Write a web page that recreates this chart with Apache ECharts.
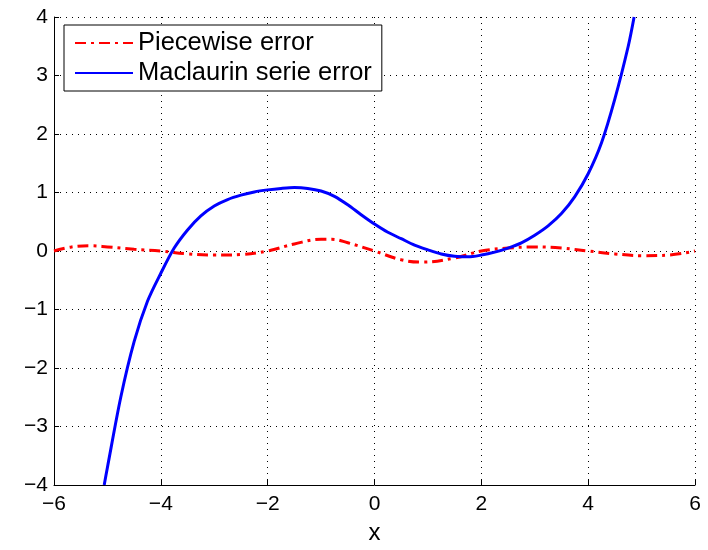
<!DOCTYPE html>
<html>
<head>
<meta charset="utf-8">
<script src="https://cdn.jsdelivr.net/npm/echarts@6/dist/echarts.min.js"></script>
<style>
  html, body { margin: 0; padding: 0; background: #fff; }
  #chart { width: 708px; height: 550px; }
</style>
</head>
<body>
<div id="chart"></div>
<script>
// values
var seriesNames = ['Piecewise error', 'Maclaurin serie error'];

var piecewiseX = [-6, -5.67, -5.33, -5, -4.5, -4, -3.5, -3, -2.5, -2, -1.5, -1, -0.8, -0.5, 0, 0.5, 0.9, 1.5, 2, 2.5, 3, 3.5, 4, 4.5, 5, 5.5, 6];
var piecewiseY = [0, 0.07, 0.09, 0.07, 0.03, 0, -0.05, -0.07, -0.06, 0, 0.12, 0.2, 0.2, 0.14, 0, -0.15, -0.19, -0.12, 0, 0.05, 0.07, 0.05, 0, -0.05, -0.08, -0.07, 0];

var maclaurinX = [-5.06, -5.0, -4.75, -4.5, -4.25, -4.0, -3.75, -3.5, -3.25, -3.0, -2.75, -2.5, -2.25, -2.0, -1.75, -1.5, -1.25, -1.0, -0.75, -0.5, -0.25,
    0, 0.25, 0.5, 0.75, 1.0, 1.25, 1.5, 1.75, 2.0, 2.25, 2.5, 2.75, 3.0, 3.25, 3.5, 3.75, 4.0, 4.25, 4.5, 4.75, 4.86];
var maclaurinY = [-4, -3.7, -2.5, -1.55, -0.86, -0.38, 0.05, 0.36, 0.6, 0.77, 0.88, 0.955, 1.01, 1.045, 1.07, 1.085, 1.07, 1.025, 0.935, 0.79, 0.62,
    0.46, 0.32, 0.21, 0.1, 0.02, -0.05, -0.09, -0.1, -0.07, -0.02, 0.05, 0.14, 0.27, 0.43, 0.64, 0.93, 1.32, 1.85, 2.6, 3.5, 4.0];

var xTicks = { min: -6, max: 6, step: 2 };
var yTicks = { min: -4, max: 4, step: 1 };

function pairs(xs, ys) {
    return xs.map(function (x, i) { return [x, ys[i]]; });
}

function minusSign(v) {
    return String(v).replace('-', '\u2212');
}

var font = 'Liberation Sans, Arial, sans-serif';
var myChart = echarts.init(document.getElementById('chart'));

var axisCommon = {
    axisLine: { show: true, onZero: false, lineStyle: { color: '#000', width: 1 } },
    axisTick: { show: true, inside: true, length: 5, lineStyle: { color: '#000' } },
    splitLine: { show: true, lineStyle: { color: '#000', type: [1, 5], width: 1 } },
    axisLabel: {
        color: '#000',
        fontFamily: font,
        fontSize: 21,
        formatter: minusSign
    }
};

var option = {
    backgroundColor: '#fff',
    animation: false,
    grid: { left: 54, right: 13, top: 17, bottom: 62 },
    legend: {
        orient: 'vertical',
        left: 64,
        top: 25,
        padding: [5, 10, 5, 10],
        itemGap: 4,
        itemWidth: 58,
        itemHeight: 14,
        backgroundColor: '#fff',
        borderColor: '#000',
        borderWidth: 1,
        borderRadius: 0,
        itemStyle: { opacity: 0 },
        textStyle: {
            color: '#000',
            fontFamily: font,
            fontSize: 25.5,
            lineHeight: 25
        },
        data: seriesNames
    },
    xAxis: Object.assign({}, axisCommon, {
        type: 'value',
        min: xTicks.min,
        max: xTicks.max,
        interval: xTicks.step,
        name: 'x',
        nameLocation: 'middle',
        nameGap: 36,
        nameTextStyle: { color: '#000', fontFamily: font, fontSize: 24 },
        axisLabel: Object.assign({}, axisCommon.axisLabel, { margin: 9 })
    }),
    yAxis: Object.assign({}, axisCommon, {
        type: 'value',
        min: yTicks.min,
        max: yTicks.max,
        interval: yTicks.step,
        axisLabel: Object.assign({}, axisCommon.axisLabel, { margin: 6 })
    }),
    series: [
        {
            name: seriesNames[0],
            type: 'line',
            data: pairs(piecewiseX, piecewiseY),
            smooth: 0.4,
            symbol: 'none',
            z: 3,
            lineStyle: { color: '#ff0000', width: 3, type: [11, 5, 3, 5] },
            itemStyle: { color: '#ff0000' }
        },
        {
            name: seriesNames[1],
            type: 'line',
            data: pairs(maclaurinX, maclaurinY),
            smooth: 0.3,
            symbol: 'none',
            z: 4,
            lineStyle: { color: '#0000ff', width: 3 },
            itemStyle: { color: '#0000ff' }
        }
    ]
};

myChart.setOption(option);
</script>
</body>
</html>
